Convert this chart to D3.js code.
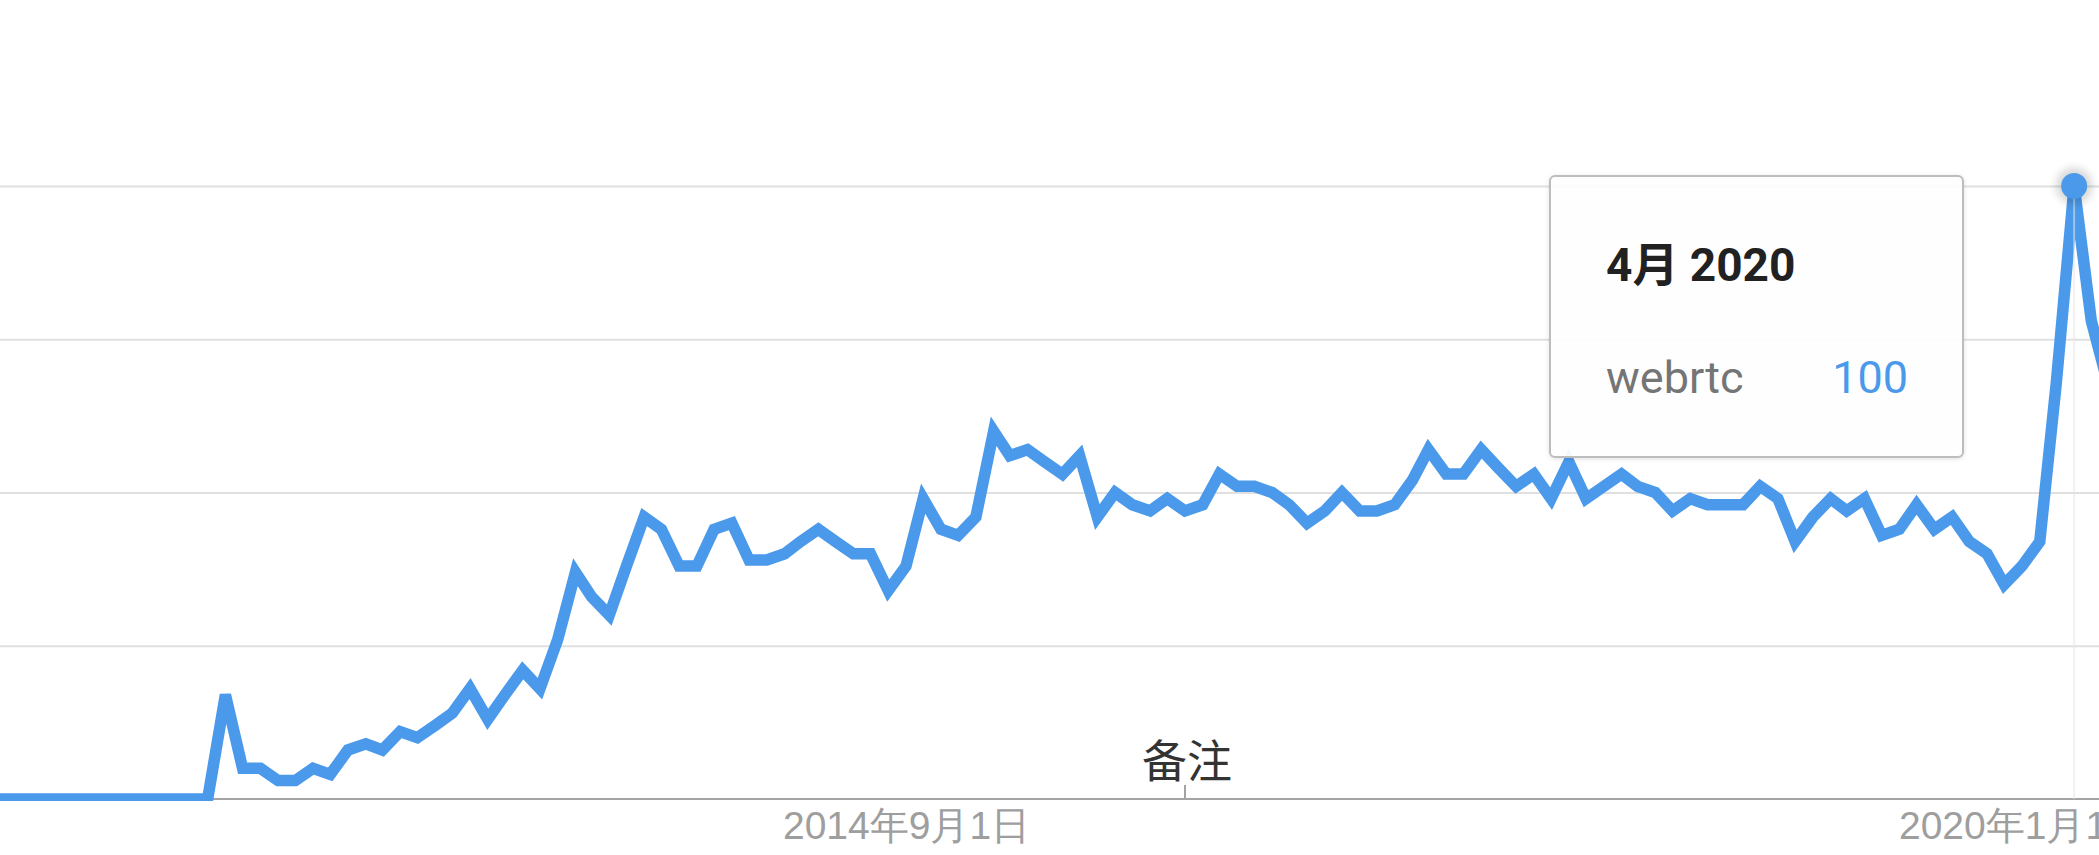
<!DOCTYPE html>
<html lang="zh">
<head>
  <meta charset="UTF-8">
  <title>webrtc 热度</title>
  <script src="https://d3js.org/d3.v7.min.js"></script>
  <style>
    html, body {
      margin: 0;
      padding: 0;
      background: #fff;
      overflow: hidden;
    }
    svg {
      display: block;
      font-family: Roboto, "Noto Sans CJK SC", sans-serif;
    }
    .grid line {
      stroke: #e0e0e0;
      stroke-width: 2;
    }
    .grid .domain {
      display: none;
    }
    .x-axis .domain {
      stroke: #a3a3a3;
      stroke-width: 2;
    }
    .x-axis text {
      fill: #9e9e9e;
      font-size: 39px;
    }
  </style>
</head>
<body>
  <svg id="chart"></svg>
  <script>
    // 月份 (每月第一天) 与 webrtc 搜索热度
    const months = [
      "2010-03", "2010-04", "2010-05", "2010-06", "2010-07", "2010-08", "2010-09", "2010-10",
      "2010-11", "2010-12", "2011-01", "2011-02", "2011-03", "2011-04", "2011-05", "2011-06",
      "2011-07", "2011-08", "2011-09", "2011-10", "2011-11", "2011-12", "2012-01", "2012-02",
      "2012-03", "2012-04", "2012-05", "2012-06", "2012-07", "2012-08", "2012-09", "2012-10",
      "2012-11", "2012-12", "2013-01", "2013-02", "2013-03", "2013-04", "2013-05", "2013-06",
      "2013-07", "2013-08", "2013-09", "2013-10", "2013-11", "2013-12", "2014-01", "2014-02",
      "2014-03", "2014-04", "2014-05", "2014-06", "2014-07", "2014-08", "2014-09", "2014-10",
      "2014-11", "2014-12", "2015-01", "2015-02", "2015-03", "2015-04", "2015-05", "2015-06",
      "2015-07", "2015-08", "2015-09", "2015-10", "2015-11", "2015-12", "2016-01", "2016-02",
      "2016-03", "2016-04", "2016-05", "2016-06", "2016-07", "2016-08", "2016-09", "2016-10",
      "2016-11", "2016-12", "2017-01", "2017-02", "2017-03", "2017-04", "2017-05", "2017-06",
      "2017-07", "2017-08", "2017-09", "2017-10", "2017-11", "2017-12", "2018-01", "2018-02",
      "2018-03", "2018-04", "2018-05", "2018-06", "2018-07", "2018-08", "2018-09", "2018-10",
      "2018-11", "2018-12", "2019-01", "2019-02", "2019-03", "2019-04", "2019-05", "2019-06",
      "2019-07", "2019-08", "2019-09", "2019-10", "2019-11", "2019-12", "2020-01", "2020-02",
      "2020-03", "2020-04", "2020-05", "2020-06"
    ];
    const webrtc = [
      0, 0, 0, 0, 0, 0, 0, 0,
      0, 0, 0, 0, 0, 0, 0, 17,
      5, 5, 3, 3, 5, 4, 8, 9,
      8, 11, 10, 12, 14, 18, 13, 17,
      21, 18, 26, 37, 33, 30, 38, 46,
      44, 38, 38, 44, 45, 39, 39, 40,
      42, 44, 42, 40, 40, 34, 38, 49,
      44, 43, 46, 60, 56, 57, 55, 53,
      56, 46, 50, 48, 47, 49, 47, 48,
      53, 51, 51, 50, 48, 45, 47, 50,
      47, 47, 48, 52, 57, 53, 53, 57,
      54, 51, 53, 49, 55, 49, 51, 53,
      51, 50, 47, 49, 48, 48, 48, 51,
      49, 42, 46, 49, 47, 49, 43, 44,
      48, 44, 46, 42, 40, 35, 38, 42,
      68, 100, 78, 67
    ];
    const gridValues = [25, 50, 75, 100];
    const xTickDates = ["2014-09-01", "2020-01-01"];
    const xTickLabels = ["2014年9月1日", "2020年1月1日"];
    const noteDate = "2016-01-01";
    const noteLabel = "备注";
    const hoverMonth = "2020-04";
    const seriesName = "webrtc";
    const hoverTitle = "4月 2020";

    const width = 2099;
    const height = 855;
    const blue = "#4a99eb";

    const parseMonth = d3.timeParse("%Y-%m");
    const parseDay = d3.timeParse("%Y-%m-%d");
    const data = months.map((m, i) => ({ date: parseMonth(m), value: webrtc[i] }));

    const svg = d3.select("#chart")
      .attr("width", width)
      .attr("height", height);

    // 只截取了图表的一部分, 左右两端都被裁掉
    const x = d3.scaleTime()
      .domain(xTickDates.map(parseDay))
      .range([906, 2022]);

    const y = d3.scaleLinear()
      .domain([0, 100])
      .range([799, 186]);

    const defs = svg.append("defs");
    defs.append("clipPath")
      .attr("id", "plot")
      .append("rect")
      .attr("x", 0).attr("y", 0)
      .attr("width", width)
      .attr("height", y(0) + 2);
    defs.append("filter")
      .attr("id", "halo")
      .attr("x", "-50%").attr("y", "-50%")
      .attr("width", "200%").attr("height", "200%")
      .append("feGaussianBlur")
      .attr("stdDeviation", 4);
    const shadow = defs.append("filter")
      .attr("id", "boxShadow")
      .attr("x", "-10%").attr("y", "-10%")
      .attr("width", "120%").attr("height", "130%");
    shadow.append("feDropShadow")
      .attr("dx", 0).attr("dy", 1)
      .attr("stdDeviation", 2)
      .attr("flood-color", "#000")
      .attr("flood-opacity", 0.12);

    // 网格线
    svg.append("g")
      .attr("class", "grid")
      .call(d3.axisLeft(y)
        .tickValues(gridValues)
        .tickSize(-width)
        .tickFormat(""));

    // 横轴
    const xAxis = svg.append("g")
      .attr("class", "x-axis")
      .attr("transform", `translate(0, ${y(0)})`)
      .call(d3.axisBottom(x)
        .tickValues(xTickDates.map(parseDay))
        .tickSize(0)
        .tickPadding(12)
        .tickFormat((d, i) => xTickLabels[i]));
    xAxis.select(".domain").attr("d", `M0,0H${width}`);
    xAxis.selectAll(".tick text").attr("dy", "0.71em");

    // 备注标记
    const noteX = x(parseDay(noteDate));
    svg.append("line")
      .attr("x1", noteX).attr("x2", noteX)
      .attr("y1", y(0) - 14).attr("y2", y(0))
      .attr("stroke", "#a3a3a3")
      .attr("stroke-width", 2);
    svg.append("text")
      .attr("x", noteX + 2)
      .attr("y", y(0) - 21)
      .attr("text-anchor", "middle")
      .attr("fill", "#333")
      .attr("font-size", 45)
      .text(noteLabel);

    // 折线
    const line = d3.line()
      .x(d => x(d.date))
      .y(d => y(d.value));

    svg.append("path")
      .datum(data)
      .attr("clip-path", "url(#plot)")
      .attr("fill", "none")
      .attr("stroke", blue)
      .attr("stroke-width", 11.5)
      .attr("stroke-linejoin", "miter")
      .attr("d", line);

    // 悬停竖线
    const hover = data.find(d => +d.date === +parseMonth(hoverMonth));
    svg.append("line")
      .attr("x1", x(hover.date))
      .attr("x2", x(hover.date))
      .attr("y1", y(100))
      .attr("y2", y(0))
      .attr("stroke", "#e6e6e6")
      .attr("stroke-opacity", 0.55)
      .attr("stroke-width", 2);

    // 悬停点
    svg.append("circle")
      .attr("cx", x(hover.date))
      .attr("cy", y(hover.value))
      .attr("r", 18)
      .attr("fill", "#000")
      .attr("opacity", 0.16)
      .attr("filter", "url(#halo)");
    svg.append("circle")
      .attr("cx", x(hover.date))
      .attr("cy", y(hover.value))
      .attr("r", 13)
      .attr("fill", blue);

    // 提示框
    const tip = svg.append("g")
      .attr("transform", "translate(1550, 176)");
    tip.append("rect")
      .attr("width", 413)
      .attr("height", 281)
      .attr("rx", 5)
      .attr("fill", "#fff")
      .attr("fill-opacity", 0.93)
      .attr("stroke", "#bdbdbd")
      .attr("stroke-width", 2)
      .attr("filter", "url(#boxShadow)");
    tip.append("text")
      .attr("x", 56)
      .attr("y", 105)
      .attr("font-size", 46)
      .attr("font-weight", "bold")
      .attr("fill", "#212121")
      .text(hoverTitle);
    tip.append("text")
      .attr("x", 56)
      .attr("y", 217)
      .attr("font-size", 45)
      .attr("fill", "#757575")
      .text(seriesName);
    tip.append("text")
      .attr("x", 358)
      .attr("y", 217)
      .attr("text-anchor", "end")
      .attr("font-size", 45)
      .attr("fill", blue)
      .text(hover.value);
  </script>
</body>
</html>
